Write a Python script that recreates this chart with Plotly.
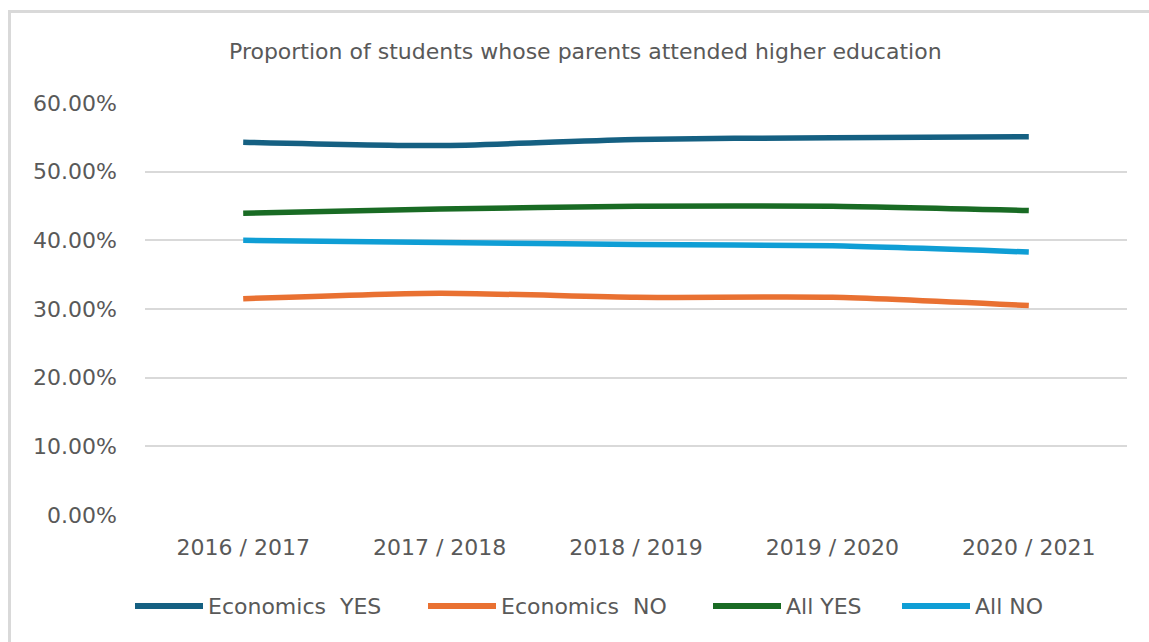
import plotly.graph_objects as go

# Academic years on the category axis
years = ["2016 / 2017", "2017 / 2018", "2018 / 2019", "2019 / 2020", "2020 / 2021"]

# Share of students whose parents attended higher education
econ_yes = [0.5430, 0.5380, 0.5470, 0.5495, 0.5510]
econ_no = [0.3150, 0.3230, 0.3170, 0.3170, 0.3050]
all_yes = [0.4395, 0.4455, 0.4495, 0.4498, 0.4435]
all_no = [0.4000, 0.3970, 0.3940, 0.3920, 0.3830]

series_names = ["Economics  YES", "Economics  NO", "All YES", "All NO"]
series_values = [econ_yes, econ_no, all_yes, all_no]
series_colors = ["#156082", "#E97132", "#196B24", "#0F9ED5"]

W, H = 1149, 642
L, R, T, B = 145, 22, 103, 127
PW, PH = W - L - R, H - T - B

FONT = "DejaVu Sans"
GREY = "#595959"


def px_to_paper_x(px):
    return (px - L) / PW


def px_to_paper_y(py):
    return (H - B - py) / PH


fig = go.Figure()
for name, vals, col in zip(series_names, series_values, series_colors):
    fig.add_trace(go.Scatter(
        x=years, y=vals, name=name, mode="lines",
        line=dict(color=col, width=5.5, shape="spline", smoothing=0.6),
        showlegend=False,
    ))

# Outer chart frame (left and top edges)
fig.add_shape(type="line", xref="paper", yref="paper",
              x0=px_to_paper_x(9.5), x1=px_to_paper_x(9.5),
              y0=px_to_paper_y(650), y1=px_to_paper_y(11.5),
              line=dict(color="#D9D9D9", width=3), layer="below")
fig.add_shape(type="line", xref="paper", yref="paper",
              x0=px_to_paper_x(8), x1=px_to_paper_x(1160),
              y0=px_to_paper_y(11.5), y1=px_to_paper_y(11.5),
              line=dict(color="#D9D9D9", width=3), layer="below")

# Legend drawn below the plot
legend_items = [(135, 203), (428, 496), (713, 781), (902, 970)]
for (x0, x1), name, col in zip(legend_items, series_names, series_colors):
    fig.add_shape(type="line", xref="paper", yref="paper",
                  x0=px_to_paper_x(x0), x1=px_to_paper_x(x1),
                  y0=px_to_paper_y(606), y1=px_to_paper_y(606),
                  line=dict(color=col, width=6))
    fig.add_annotation(xref="paper", yref="paper",
                       x=px_to_paper_x(x1 + 3), y=px_to_paper_y(606),
                       text=name, showarrow=False, xanchor="left", yanchor="middle",
                       font=dict(family=FONT, size=22, color=GREY))

# Chart title
fig.add_annotation(xref="paper", yref="paper",
                   x=px_to_paper_x(585), y=px_to_paper_y(52),
                   text="Proportion of students whose parents attended higher education",
                   showarrow=False, xanchor="center", yanchor="middle",
                   font=dict(family=FONT, size=22, color=GREY))

fig.update_layout(
    width=W, height=H,
    margin=dict(l=L, r=R, t=T, b=B),
    paper_bgcolor="white", plot_bgcolor="white",
    showlegend=False,
)
fig.update_xaxes(
    type="category", range=[-0.5, 4.5],
    showgrid=False, showline=False, zeroline=False,
    tickfont=dict(family=FONT, size=22, color=GREY), ticks="",
    ticklabelstandoff=17,
)
fig.update_yaxes(
    range=[0, 0.6], dtick=0.1, tickformat=".2%",
    showgrid=True, gridcolor="#D9D9D9", gridwidth=2,
    zeroline=False, showline=False, ticks="",
    tickfont=dict(family=FONT, size=22, color=GREY),
    ticklabelstandoff=27,
)

fig.write_html("out.html")
